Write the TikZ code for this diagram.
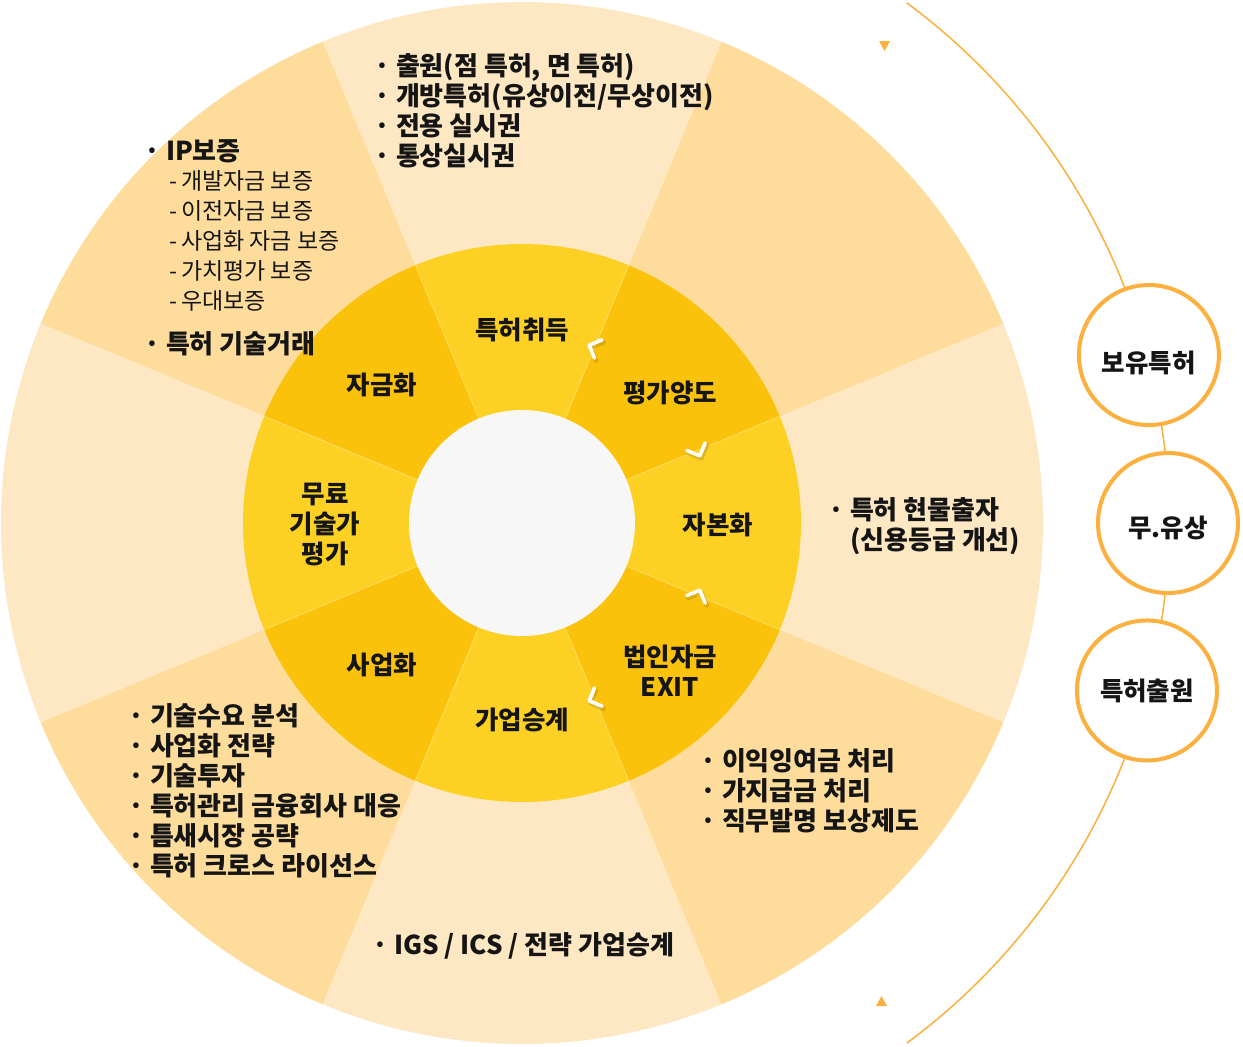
\documentclass[tikz,border=0pt]{standalone}
\usepackage{fontspec}
\setmainfont{Noto Sans CJK KR}
\usetikzlibrary{calc}
\definecolor{outL}{HTML}{FEE8C3}
\definecolor{outD}{HTML}{FEDC9B}
\definecolor{inL}{HTML}{FDD123}
\definecolor{inD}{HTML}{FBC20B}
\definecolor{core}{HTML}{F7F7F7}
\definecolor{orng}{HTML}{FBB040}
\definecolor{ink}{HTML}{151515}
\tikzset{
  txt/.style={anchor=west, align=left, inner sep=0pt, text=ink, font=\fontsize{26}{30}\selectfont\bfseries},
  subtxt/.style={anchor=west, align=left, inner sep=0pt, text=ink, font=\fontsize{23}{30}\selectfont},
  inlab/.style={align=center, inner sep=0pt, text=ink, font=\fontsize{25.5}{30}\selectfont\bfseries},
  bub/.style={circle, draw=orng, line width=4pt, fill=white, minimum size=140pt, inner sep=0pt, text=ink, font=\fontsize{25.5}{30}\selectfont\bfseries},
  chev/.style={line width=3.6pt, line cap=round, line join=round}
}
\begin{document}
\begin{tikzpicture}[x=1pt,y=1pt]
\useasboundingbox (0,0) rectangle (1243,-1047);
\fill[white] (0,0) rectangle (1243,-1047);
\coordinate (C) at (522,-523);
% outer ring
\foreach \k in {0,...,7} {
  \pgfmathsetmacro\a{-22.5+45*\k}
  \ifodd\k \def\col{outD}\else \def\col{outL}\fi
  \fill[\col] (C) -- ++(\a:521) arc[start angle=\a, delta angle=45, radius=521] -- cycle;
}
% inner ring
\foreach \k in {0,...,7} {
  \pgfmathsetmacro\a{-22.5+45*\k}
  \ifodd\k \def\col{inD}\else \def\col{inL}\fi
  \fill[\col] (C) -- ++(\a:279) arc[start angle=\a, delta angle=45, radius=279] -- cycle;
}
\foreach \k in {0,...,7} {
  \pgfmathsetmacro\a{-22.5+45*\k}
  \draw[white, opacity=.3, line width=.7pt] ($(C)+(\a:113)$) -- ($(C)+(\a:279)$);
}
\fill[core] (C) circle[radius=113];
% chevrons
\foreach \ang/\dir in {67.5/157.5, 22.5/-67.5, -22.5/67.5, -67.5/-157.5} {
  \coordinate (t) at ($(C)+(\ang:190)+(\dir:6)$);
  \coordinate (ts) at ($(t)+(1.5,-2.5)$);
  \draw[chev, black, opacity=.12, line width=4.6pt] ($(ts)+(\dir+135:14)$) -- (ts) -- ($(ts)+(\dir-135:14)$);
  \draw[chev, white] ($(t)+(\dir+135:14)$) -- (t) -- ($(t)+(\dir-135:14)$);
}
% inner labels
\node[inlab] (n1) at (522,-330) {특허취득};
\node[inlab] (n2) at (670,-393) {평가양도};
\node[inlab] (n3) at (718,-525) {자본화};
\node[inlab] (n4) at (670,-671) {법인자금\\EXIT};
\node[inlab] (n5) at (522,-720) {가업승계};
\node[inlab] (n6) at (382,-665) {사업화};
\node[inlab] (n7) at (325,-525) {무료\\기술가\\평가};
\node[inlab] (n8) at (382,-385) {자금화};
% outer texts
\node[txt] (tA) at (374,-111) {· 출원(점 특허, 면 특허)\\· 개방특허(유상이전/무상이전)\\· 전용 실시권\\· 통상실시권};
\node[txt] (tIP) at (144,-151) {· IP보증};
\node[subtxt] (tIPs) at (169,-241) {-\hspace{4pt}개발자금 보증\\-\hspace{4pt}이전자금 보증\\-\hspace{4pt}사업화 자금 보증\\-\hspace{4pt}가치평가 보증\\-\hspace{4pt}우대보증};
\node[txt] (tTr) at (144,-344) {· 특허 기술거래};
\node[txt] (tR) at (828,-526) {· 특허 현물출자\\\phantom{· }(신용등급 개선)};
\node[txt] (tBR) at (700,-791) {· 이익잉여금 처리\\· 가지급금 처리\\· 직무발명 보상제도};
\node[txt] (tBL) at (128,-791) {· 기술수요 분석\\· 사업화 전략\\· 기술투자\\· 특허관리 금융회사 대응\\· 틈새시장 공략\\· 특허 크로스 라이선스};
\node[txt] (tB) at (372,-946) {· IGS / ICS / 전략 가업승계};
% right arc and bubbles
\draw[orng, line width=1.5pt] ($(C)+(53.5:647)$) arc[start angle=53.5, end angle=-53.5, radius=647];
\node[bub, text height=34pt, text depth=0pt] (b1) at ($(C)+(15:649)$) {보유특허};
\node[bub, text height=28pt, text depth=0pt] (b2) at ($(C)+(0:646)$) {무.유상};
\node[bub] (b3) at ($(C)+(-15:647)$) {특허출원};
% small triangles
\fill[orng] (879,-41) -- (890,-41) -- (884.5,-51) -- cycle;
\fill[orng] (876,-1006) -- (887,-1006) -- (881.5,-996) -- cycle;
\end{tikzpicture}
\end{document}
